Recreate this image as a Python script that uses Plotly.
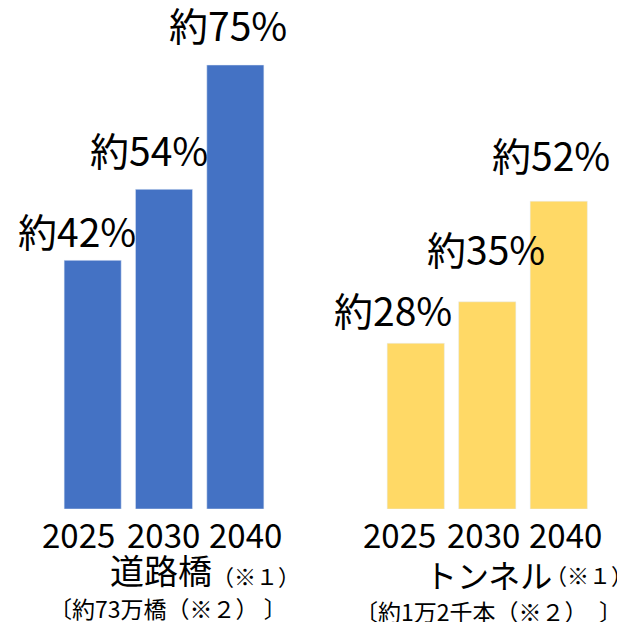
import plotly.graph_objects as go

# データ
years = ["2025", "2030", "2040"]
bridge_pct = [42, 54, 75]
tunnel_pct = [28, 35, 52]
bridge_title = "道路橋"
bridge_sub = "〔約73万橋（※２） 〕"
tunnel_title = "トンネル"
tunnel_sub = "〔約1万2千本（※２）　〕"
note1 = "（※１）"

FONT = "Noto Sans CJK JP"
OFF = 8  # ページ本体の余白ぶん
W, H = 625 - OFF, 622 - OFF


def px(x):
    return (x - OFF) / W


def py(y):
    return 1 - (y - OFF) / H


def label(x, y, text, size):
    fig.add_annotation(x=px(x), y=py(y), xref="paper", yref="paper", text=text,
                       showarrow=False, xanchor="center", yanchor="middle",
                       font=dict(size=size, color="black", family=FONT))


fig = go.Figure()
fig.add_trace(go.Bar(x=years, y=bridge_pct, xaxis="x", yaxis="y",
                     marker_color="#4472C4", showlegend=False))
fig.add_trace(go.Bar(x=years, y=tunnel_pct, xaxis="x2", yaxis="y",
                     marker_color="#FFD966", showlegend=False))

# 値ラベル（テキストボックスの手置きずれを再現）
label_dx = {"x": [-16, -15, -7], "x2": [-23, -1, -8]}
label_dy = {"x": [30, 40, 41], "x2": [34, 54, 47]}
tick_dx = {"x": [-14, -1, 10], "x2": [-16, -4, 7]}

for xref, vals in (("x", bridge_pct), ("x2", tunnel_pct)):
    for i, (yr, v) in enumerate(zip(years, vals)):
        # カテゴリ軸上の位置はインデックスで指定
        fig.add_annotation(x=i, y=v, xref=xref, yref="y", text=f"約{v}%",
                           showarrow=False, xanchor="center", yanchor="middle",
                           xshift=label_dx[xref][i], yshift=label_dy[xref][i],
                           font=dict(size=39, color="black", family=FONT))
        fig.add_annotation(x=i, y=py(534), xref=xref, yref="paper", text=yr,
                           showarrow=False, xanchor="center", yanchor="middle",
                           xshift=tick_dx[xref][i],
                           font=dict(size=33, color="black", family=FONT))

# カテゴリ名
label(160.5, 569, bridge_title, 34)
label(256, 575, note1, 22)
label(168, 608, bridge_sub, 23)
label(488, 574, tunnel_title, 32)
label(588.5, 574, note1, 22)
label(488.5, 611, tunnel_sub, 23)

fig.update_layout(
    width=W, height=H,
    margin=dict(l=0, r=0, t=0, b=0),
    plot_bgcolor="white", paper_bgcolor="white",
    bargap=0.2,
    xaxis=dict(domain=[px(57), px(271)], anchor="y", type="category",
               range=[-0.5, 2.5], showticklabels=False, showgrid=False,
               zeroline=False, showline=False, ticks=""),
    xaxis2=dict(domain=[px(380), px(594.5)], anchor="y", type="category",
                range=[-0.5, 2.5], showticklabels=False, showgrid=False,
                zeroline=False, showline=False, ticks=""),
    yaxis=dict(domain=[py(509), 1], range=[0, (509 - OFF) / 5.92], visible=False),
)

fig.write_html("out.html")
